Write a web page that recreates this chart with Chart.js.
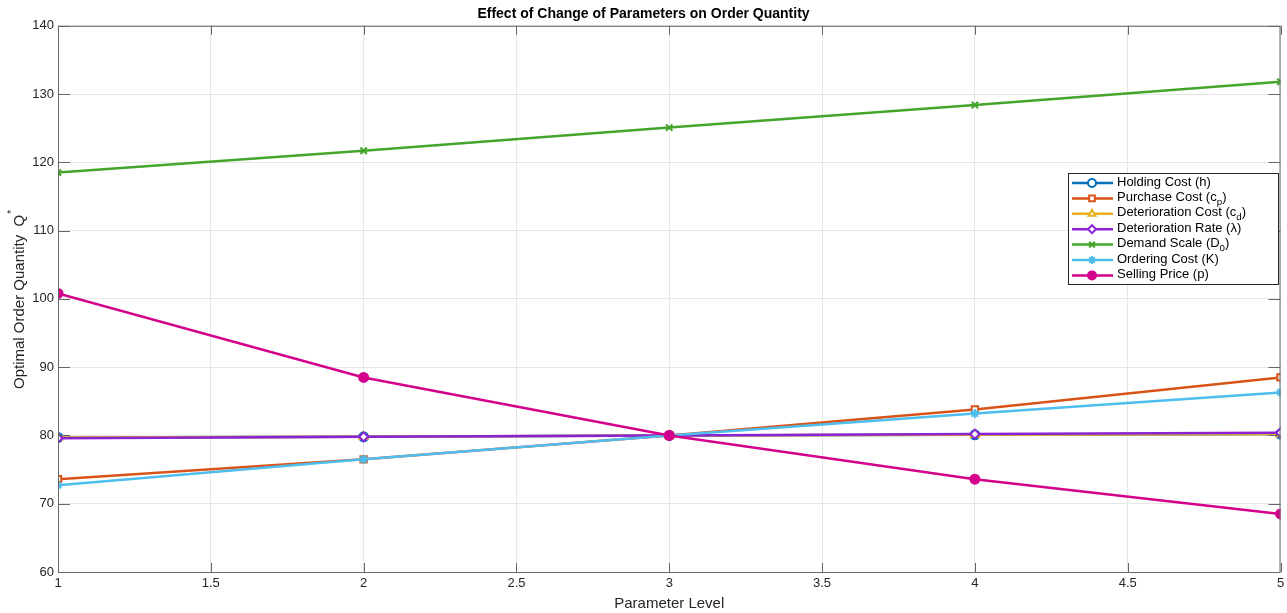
<!DOCTYPE html>
<html>
<head>
<meta charset="utf-8">
<script src="https://cdn.jsdelivr.net/npm/chart.js@4"></script>
<style>
  html, body { margin: 0; padding: 0; background: #fff; }
  #wrap { width: 1287px; height: 613px; }
</style>
</head>
<body>
<div id="wrap"><canvas id="chartQ" width="1287" height="613"></canvas></div>
<script>
const levels = [1, 2, 3, 4, 5];
const seriesNames = [
  'Holding Cost (h)',
  'Purchase Cost (c_p)',
  'Deterioration Cost (c_d)',
  'Deterioration Rate (\u03bb)',
  'Demand Scale (D_0)',
  'Ordering Cost (K)',
  'Selling Price (p)'
];
const holdingCost = [79.7, 79.8, 80.0, 80.1, 80.2];
const purchaseCost = [73.6, 76.5, 80.0, 83.8, 88.5];
const deteriorationCost = [79.7, 79.8, 80.0, 80.1, 80.2];
const deteriorationRate = [79.6, 79.8, 80.0, 80.2, 80.4];
const demandScale = [118.5, 121.7, 125.1, 128.4, 131.8];
const orderingCost = [72.7, 76.5, 80.0, 83.2, 86.3];
const sellingPrice = [100.8, 88.5, 80.0, 73.6, 68.5];

const seriesValues = [holdingCost, purchaseCost, deteriorationCost, deteriorationRate,
  demandScale, orderingCost, sellingPrice];
const colors = ['#0072BD', '#D95319', '#EDB120', '#8A22D6', '#43A52C', '#4DBEEE', '#D4008C'];
const markers = ['circle', 'rect', 'triangle', 'rectRot', 'crossRot', 'star', 'circle'];
const filled = [false, false, false, false, false, true, true];

const FONT = '"Liberation Sans", Arial, Helvetica, sans-serif';

// draws text with _x subscripts
function richText(ctx, str, x, y, size) {
  const parts = str.split(/(_\w)/);
  let cx = x;
  parts.forEach(p => {
    if (p.startsWith('_')) {
      ctx.font = (size * 0.75) + 'px ' + FONT;
      ctx.fillText(p.slice(1), cx, y + size * 0.35);
      cx += ctx.measureText(p.slice(1)).width;
    } else {
      ctx.font = size + 'px ' + FONT;
      ctx.fillText(p, cx, y);
      cx += ctx.measureText(p).width;
    }
  });
}

const matlabFrame = {
  id: 'matlabFrame',
  afterDraw(chart) {
    const ctx = chart.ctx;
    const a = chart.chartArea;
    ctx.save();
    ctx.strokeStyle = '#666';
    ctx.lineWidth = 1;
    ctx.strokeRect(a.left + 0.5, a.top + 0.5, a.right - a.left - 1, a.bottom - a.top);

    // inward tick marks
    const xs = chart.scales.x, ys = chart.scales.y;
    ctx.beginPath();
    xs.ticks.forEach(t => {
      const px = Math.round(xs.getPixelForValue(t.value)) + 0.5;
      ctx.moveTo(px, a.bottom); ctx.lineTo(px, a.bottom - 9);
      ctx.moveTo(px, a.top); ctx.lineTo(px, a.top + 9);
    });
    ys.ticks.forEach(t => {
      const py = Math.round(ys.getPixelForValue(t.value)) + 0.5;
      ctx.moveTo(a.left, py); ctx.lineTo(a.left + 12, py);
      ctx.moveTo(a.right, py); ctx.lineTo(a.right - 12, py);
    });
    ctx.stroke();

    // y title with superscript
    ctx.translate(20, (a.top + a.bottom) / 2);
    ctx.rotate(-Math.PI / 2);
    ctx.fillStyle = '#262626';
    ctx.font = '15px ' + FONT;
    ctx.textBaseline = 'middle';
    const t = 'Optimal Order Quantity  Q';
    const w = ctx.measureText(t).width;
    ctx.fillText(t, -w / 2 - 3, 0);
    ctx.font = '10px ' + FONT;
    ctx.fillText('*', w / 2 - 2, -8);
    ctx.restore();

    // legend
    const lx = 1068, ly = 173, lw = 210, lh = 111;
    ctx.save();
    ctx.fillStyle = '#fff';
    ctx.fillRect(lx, ly, lw, lh);
    ctx.strokeStyle = '#262626';
    ctx.lineWidth = 1;
    ctx.strokeRect(lx + 0.5, ly + 0.5, lw, lh);
    const rowH = 15.4;
    chart.data.datasets.forEach((ds, i) => {
      const cy = ly + 10 + i * rowH;
      ctx.strokeStyle = ds.borderColor;
      ctx.lineWidth = 2.5;
      ctx.beginPath();
      ctx.moveTo(lx + 4, cy); ctx.lineTo(lx + 45, cy);
      ctx.stroke();
      ctx.fillStyle = ds.pointBackgroundColor;
      ctx.strokeStyle = ds.borderColor;
      ctx.lineWidth = 2;
      Chart.helpers.drawPoint(ctx, {pointStyle: ds.pointStyle, radius: 4, borderWidth: 2}, lx + 24, cy);
      ctx.fillStyle = '#000';
      ctx.textBaseline = 'middle';
      richText(ctx, ds.label, lx + 49, cy - 1, 13);
    });
    ctx.restore();
  }
};

const ctx = document.getElementById('chartQ').getContext('2d');

new Chart(ctx, {
  type: 'line',
  data: {
    datasets: seriesNames.map((name, i) => ({
      label: name,
      data: levels.map((lv, j) => ({ x: lv, y: seriesValues[i][j] })),
      borderColor: colors[i],
      backgroundColor: colors[i],
      pointBackgroundColor: filled[i] ? colors[i] : '#fff',
      pointBorderColor: colors[i],
      pointStyle: markers[i],
      pointRadius: 4.5,
      pointBorderWidth: 2,
      borderWidth: 2.5,
      tension: 0,
      order: seriesNames.length - i
    }))
  },
  options: {
    responsive: false,
    animation: false,
    layout: { padding: 0 },
    plugins: {
      legend: { display: false },
      tooltip: { enabled: false },
      title: {
        display: true,
        text: 'Effect of Change of Parameters on Order Quantity',
        color: '#000',
        font: { family: FONT, size: 14, weight: 'bold' },
        padding: { top: 6, bottom: 3 }
      }
    },
    scales: {
      x: {
        type: 'linear',
        min: 1, max: 5,
        ticks: {
          stepSize: 0.5,
          color: '#262626',
          font: { family: FONT, size: 13 },
          maxRotation: 0,
          padding: 4,
          callback: v => String(v)
        },
        grid: { color: '#e6e6e6', drawTicks: false },
        border: { display: false },
        title: {
          display: true, text: 'Parameter Level', color: '#262626',
          font: { family: FONT, size: 15 }, padding: { top: 2, bottom: 0 }
        },
        afterFit(s) { s.height = 41; s.paddingRight = 5; s.paddingLeft = 0; }
      },
      y: {
        min: 60, max: 140,
        ticks: {
          stepSize: 10,
          color: '#262626',
          font: { family: FONT, size: 13 },
          padding: 4,
          callback: v => String(v)
        },
        grid: { color: '#e6e6e6', drawTicks: false },
        border: { display: false },
        afterFit(s) { s.width = 58; }
      }
    }
  },
  plugins: [matlabFrame]
});
</script>
</body>
</html>
